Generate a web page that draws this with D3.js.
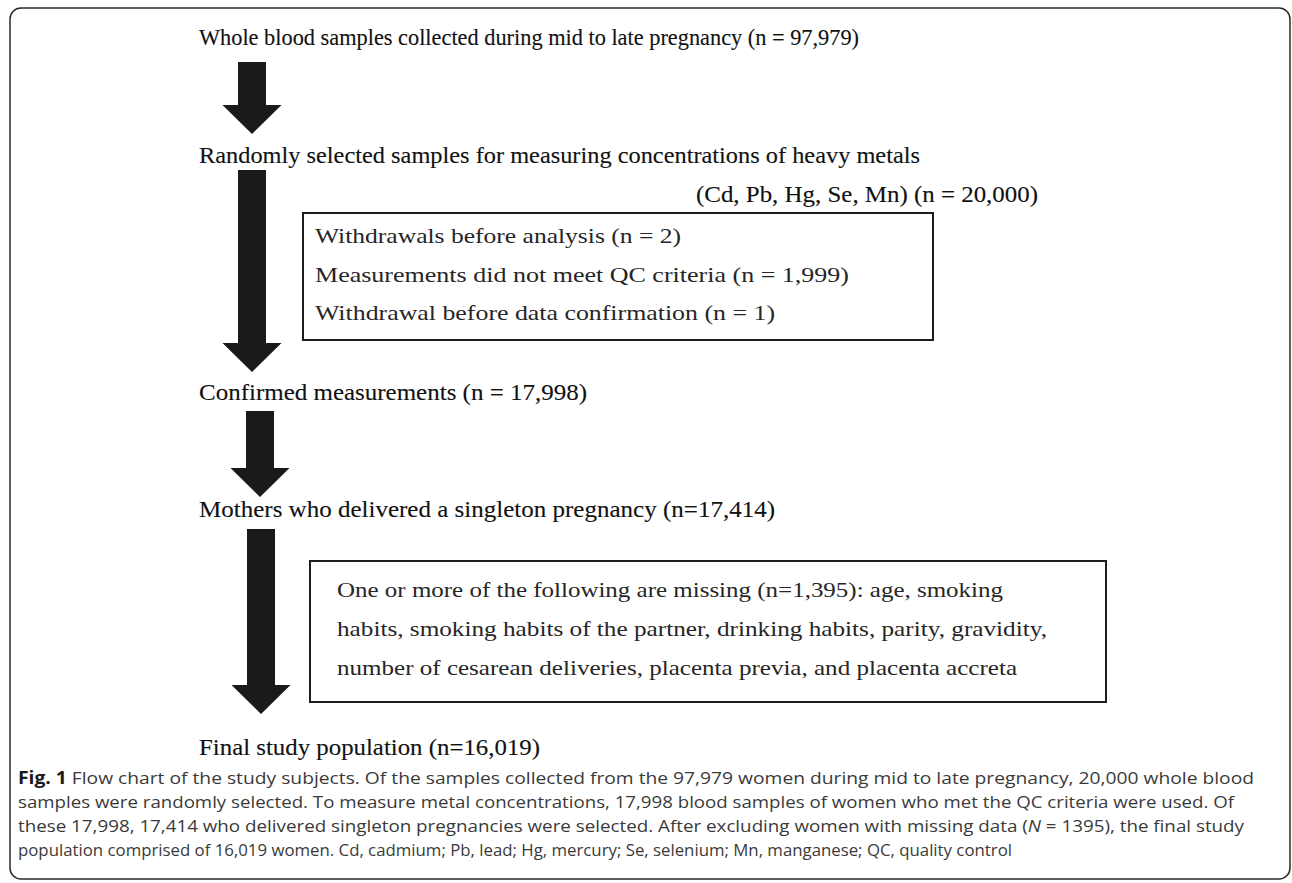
<!DOCTYPE html>
<html><head><meta charset="utf-8">
<script src="https://cdn.jsdelivr.net/npm/d3@7"></script>
<style>html,body{margin:0;padding:0;background:#fff;overflow:hidden}</style>
</head><body><svg id="c" width="1292" height="883"></svg>
<script>
// ---------- data ----------
const stepLabels = [
  "Whole blood samples collected during mid to late pregnancy (n = 97,979)",
  "Randomly selected samples for measuring concentrations of heavy metals",
  "Confirmed measurements (n = 17,998)",
  "Mothers who delivered a singleton pregnancy (n=17,414)",
  "Final study population (n=16,019)"
];
const stepSubLabel = "(Cd, Pb, Hg, Se, Mn) (n = 20,000)";
const exclusion1 = [
  "Withdrawals before analysis (n = 2)",
  "Measurements did not meet QC criteria (n = 1,999)",
  "Withdrawal before data confirmation (n = 1)"
];
const exclusion2 = [
  "One or more of the following are missing (n=1,395): age, smoking",
  "habits, smoking habits of the partner, drinking habits, parity, gravidity,",
  "number of cesarean deliveries, placenta previa, and placenta accreta"
];
const captionLines = [
  [{t:"Fig. 1", b:true}, {t:" Flow chart of the study subjects. Of the samples collected from the 97,979 women during mid to late pregnancy, 20,000 whole blood"}],
  [{t:"samples were randomly selected. To measure metal concentrations, 17,998 blood samples of women who met the QC criteria were used. Of"}],
  [{t:"these 17,998, 17,414 who delivered singleton pregnancies were selected. After excluding women with missing data ("}, {t:"N", i:true}, {t:" = 1395), the final study"}],
  [{t:"population comprised of 16,019 women. Cd, cadmium; Pb, lead; Hg, mercury; Se, selenium; Mn, manganese; QC, quality control"}]
];

// ---------- layout ----------
const svg = d3.select("#c");

// frame
svg.append("rect").attr("x",10).attr("y",8).attr("width",1280).attr("height",871)
  .attr("rx",11).attr("fill","none").attr("stroke","#2b2b2b").attr("stroke-width",1.5);

const stepY = d3.scaleOrdinal().domain(d3.range(stepLabels.length)).range([45,163,400,517,755]);
const headFont = "'Liberation Serif', 'Times New Roman', serif";
const bodyFont = "'Liberation Serif', 'Times New Roman', serif";
const headWidths = [660, 721, 388, 576, 341];

svg.selectAll("text.step").data(stepLabels).join("text")
  .attr("class","step")
  .attr("x",199).attr("y",(d,i)=>stepY(i))
  .attr("font-family",headFont).attr("font-size",23)
  .attr("fill","#111").attr("stroke","#111").attr("stroke-width",0.12)
  .attr("textLength",(d,i)=>headWidths[i]).attr("lengthAdjust","spacingAndGlyphs")
  .text(d=>d);

svg.append("text").attr("x",1038).attr("y",202).attr("text-anchor","end")
  .attr("font-family",headFont).attr("font-size",23)
  .attr("fill","#111").attr("stroke","#111").attr("stroke-width",0.12)
  .attr("textLength",342).attr("lengthAdjust","spacingAndGlyphs")
  .text(stepSubLabel);

// arrows
const arrows = [
  {cx:252, top:62,  tip:134},
  {cx:252, top:170, tip:372},
  {cx:260, top:411, tip:497},
  {cx:261, top:529, tip:714}
];
const shaftW = 28, headW = 59, headH = 29;
const line = d3.line();
svg.selectAll("path.arrow").data(arrows).join("path")
  .attr("class","arrow")
  .attr("d", a => line([
    [a.cx-shaftW/2, a.top],[a.cx+shaftW/2, a.top],[a.cx+shaftW/2, a.tip-headH],
    [a.cx+headW/2, a.tip-headH],[a.cx, a.tip],[a.cx-headW/2, a.tip-headH],
    [a.cx-shaftW/2, a.tip-headH]
  ]) + "Z")
  .attr("fill","#1a1a1a");

// exclusion boxes
const boxes = [
  {x:303, y:213, w:630, h:127, tx:315, ys:[243,282,320], widths:[366,534,460], lines:exclusion1},
  {x:310, y:561, w:796, h:141, tx:337, ys:[597,636,675], widths:[666,710,680], lines:exclusion2}
];
boxes.forEach(b=>{
  svg.append("rect").attr("x",b.x).attr("y",b.y).attr("width",b.w).attr("height",b.h)
    .attr("fill","none").attr("stroke","#1e1e1e").attr("stroke-width",2);
  svg.selectAll(null).data(b.lines).join("text")
    .attr("x",b.tx).attr("y",(d,i)=>b.ys[i])
    .attr("font-family",bodyFont).attr("font-size",21.5).attr("fill","#262626")
    .attr("textLength",(d,i)=>b.widths[i]).attr("lengthAdjust","spacingAndGlyphs")
    .text(d=>d);
});

// caption
const capY = [784, 808, 832, 856];
const capWidths = [1236, 1216, 1226, 994];
captionLines.forEach((segs,i)=>{
  const t = svg.append("text").attr("x",18).attr("y",capY[i])
    .attr("font-family","'Open Sans', 'Noto Sans', sans-serif").attr("font-size",17)
    .attr("fill","#3a3a3a")
    .attr("textLength",capWidths[i]).attr("lengthAdjust","spacingAndGlyphs");
  segs.forEach(s=>{
    const ts = t.append("tspan").text(s.t);
    if (s.b) ts.attr("font-weight","bold").attr("fill","#1a1a1a");
    if (s.i) ts.attr("font-style","italic");
  });
});
</script></body></html>
